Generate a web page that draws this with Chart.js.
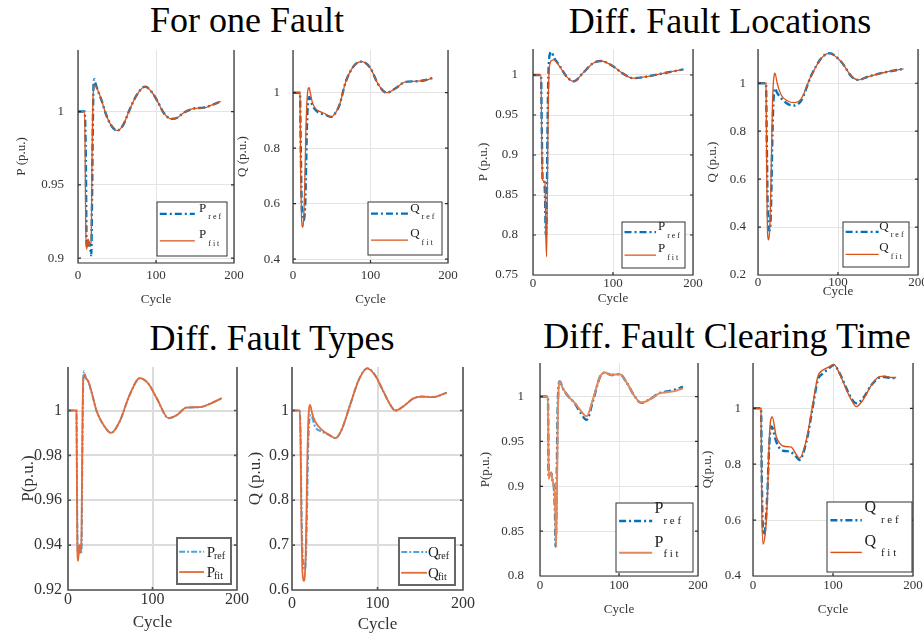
<!DOCTYPE html>
<html>
<head>
<meta charset="utf-8">
<script src="https://cdn.jsdelivr.net/npm/chart.js@4.4.0/dist/chart.umd.min.js"></script>
<style>
body{margin:0;background:#fff;width:924px;height:638px;position:relative;overflow:hidden;font-family:"Liberation Serif","Times New Roman",serif}
.title{position:absolute;font-size:36px;line-height:1;white-space:nowrap;transform:translateX(-50%);color:#000}
canvas{position:absolute}
</style>
</head>
<body>
<div class="title" style="left:247px;top:2px">For one Fault</div>
<div class="title" style="left:720px;top:3px">Diff. Fault Locations</div>
<div class="title" style="left:272px;top:320px">Diff. Fault Types</div>
<div class="title" style="left:727px;top:318px">Diff. Fault Clearing Time</div>
<script>
// values: cycle -> p.u.
const xTicks = [0, 100, 200];

const oneFaultPCycles = [0, 8.5, 10, 11, 12, 13, 14, 15, 16, 17, 18, 19, 20, 21, 22, 25, 30, 36, 42, 50, 58, 66, 75, 86, 95, 102, 110, 120, 128, 135, 148, 161, 172, 183];
const oneFaultPRef = [1, 1, 0.97, 0.91, 0.907, 0.912, 0.91, 0.909, 0.905, 0.902, 0.94, 0.99, 1.019, 1.022, 1.02, 1.015, 1.008, 0.998, 0.991, 0.987, 0.991, 1.001, 1.011, 1.017, 1.013, 1.007, 0.999, 0.995, 0.996, 0.999, 1.002, 1.0027, 1.0045, 1.007];
const oneFaultPFit = [1, 1, 0.92, 0.906, 0.909, 0.913, 0.908, 0.91, 0.91, 0.912, 0.97, 1.005, 1.016, 1.018, 1.018, 1.015, 1.008, 0.998, 0.991, 0.987, 0.991, 1.001, 1.011, 1.017, 1.013, 1.007, 0.999, 0.995, 0.996, 0.999, 1.002, 1.0025, 1.0045, 1.007];
const oneFaultPTicks = [0.9, 0.95, 1];

const oneFaultQCycles = [0, 9, 10, 11, 12, 13, 14, 15, 16, 17, 18, 19, 20, 21, 22, 25, 30, 35, 42, 49, 55, 60, 68, 79, 89, 100, 110, 121, 132, 145, 157, 170, 180];
const oneFaultQRef = [1, 1, 0.8, 0.62, 0.56, 0.545, 0.54, 0.56, 0.62, 0.75, 0.88, 0.95, 0.978, 0.985, 0.98, 0.955, 0.935, 0.926, 0.92, 0.913, 0.928, 0.956, 1.039, 1.098, 1.112, 1.088, 1.03, 1.0, 1.015, 1.039, 1.041, 1.045, 1.053];
const oneFaultQFit = [1, 1, 0.7, 0.55, 0.515, 0.52, 0.56, 0.65, 0.78, 0.9, 0.97, 1.005, 1.017, 1.018, 1.005, 0.965, 0.94, 0.932, 0.923, 0.913, 0.928, 0.956, 1.039, 1.098, 1.112, 1.088, 1.03, 1.0, 1.015, 1.039, 1.041, 1.045, 1.053];
const oneFaultQTicks = [0.4, 0.6, 0.8, 1];

const locPCycles = [0, 10, 11, 12, 13, 14, 15, 16, 17, 18, 19, 20, 21, 23, 26, 33, 42, 51, 62, 75, 85, 100, 112, 125, 142, 162, 188];
const locPRef = [1, 1, 0.93, 0.87, 0.869, 0.868, 0.85, 0.8, 0.82, 0.92, 0.99, 1.018, 1.026, 1.029, 1.022, 1.012, 0.998, 0.992, 1.002, 1.0146, 1.0175, 1.011, 1.002, 0.996, 0.998, 1.002, 1.007];
const locPFit = [1, 1, 0.91, 0.869, 0.868, 0.867, 0.866, 0.8, 0.773, 0.86, 0.96, 1.003, 1.013, 1.018, 1.019, 1.011, 0.998, 0.992, 1.002, 1.0146, 1.0175, 1.011, 1.002, 0.996, 0.998, 1.002, 1.007];
const locPTicks = [0.75, 0.8, 0.85, 0.9, 0.95, 1];

const locQCycles = [0, 10, 11, 12, 13, 14, 15, 16, 17, 18, 19, 20, 21, 22, 24, 29, 37, 45, 54, 66, 79, 89, 104, 117, 125, 138, 159, 182];
const locQRef = [1, 1, 0.75, 0.5, 0.41, 0.385, 0.39, 0.45, 0.6, 0.78, 0.9, 0.96, 0.979, 0.975, 0.96, 0.9375, 0.914, 0.907, 0.928, 1.028, 1.104, 1.125, 1.09, 1.028, 1.014, 1.028, 1.046, 1.06];
const locQFit = [1, 1, 0.6, 0.37, 0.347, 0.36, 0.42, 0.55, 0.73, 0.9, 0.99, 1.03, 1.042, 1.035, 1.0, 0.951, 0.926, 0.919, 0.935, 1.028, 1.104, 1.125, 1.09, 1.028, 1.014, 1.028, 1.046, 1.06];
const locQTicks = [0.2, 0.4, 0.6, 0.8, 1];

const typePCycles = [0, 10, 11, 12, 13, 14, 15, 16, 17, 18, 19, 20, 22, 24, 28, 34, 42, 51, 61, 73, 85, 95, 105, 119, 129, 140, 156, 168, 182];
const typePRef = [1, 1, 0.95, 0.935, 0.94, 0.938, 0.936, 0.938, 0.98, 1.012, 1.0175, 1.016, 1.014, 1.013, 1.008, 0.9996, 0.9936, 0.99, 0.995, 1.007, 1.0144, 1.012, 1.0055, 0.9966, 0.998, 1.0013, 1.0015, 1.003, 1.0055];
const typePFit = [1, 1, 0.94, 0.933, 0.939, 0.94, 0.937, 0.945, 0.99, 1.014, 1.016, 1.015, 1.014, 1.013, 1.008, 0.9996, 0.9936, 0.99, 0.995, 1.007, 1.0144, 1.012, 1.0055, 0.9966, 0.998, 1.0013, 1.0015, 1.003, 1.0055];
const typePTicks = [0.92, 0.94, 0.96, 0.98, 1];

const typeQCycles = [0, 9, 10, 11, 12, 13, 14, 15, 16, 17, 18, 19, 20, 21, 22, 23, 27, 35, 43, 51, 58, 68, 78, 88, 97, 107, 115, 121, 130, 142, 152, 165, 181];
const typeQRef = [1, 1, 0.95, 0.8, 0.7, 0.665, 0.65, 0.646, 0.66, 0.72, 0.82, 0.92, 0.97, 0.985, 0.99, 0.988, 0.964, 0.953, 0.946, 0.9385, 0.957, 1.0126, 1.068, 1.094, 1.079, 1.042, 1.0126, 1.0, 1.009, 1.027, 1.031, 1.03, 1.04];
const typeQFit = [1, 1, 0.93, 0.75, 0.65, 0.625, 0.62, 0.63, 0.68, 0.78, 0.9, 0.975, 1.005, 1.0126, 1.008, 0.998, 0.9756, 0.957, 0.946, 0.9385, 0.957, 1.0126, 1.068, 1.094, 1.079, 1.042, 1.0126, 1.0, 1.009, 1.027, 1.031, 1.03, 1.04];
const typeQTicks = [0.6, 0.7, 0.8, 0.9, 1];

const clearPCycles = [0, 10, 11, 12.5, 14, 16, 17.5, 19, 19.8, 20.5, 21.5, 22.5, 23.5, 25, 29, 36, 44, 50, 59, 67, 76, 82, 90, 101, 109, 120, 128, 139, 151, 160, 172, 181];
const clearPRef = [1, 1, 0.91, 0.913, 0.915, 0.906, 0.9, 0.87, 0.833, 0.86, 0.93, 0.99, 1.012, 1.0167, 1.009, 1.0, 0.9926, 0.984, 0.974, 0.995, 1.022, 1.0267, 1.024, 1.025, 1.0167, 1.0, 0.993, 0.997, 1.0037, 1.0056, 1.008, 1.011];
const clearPFit = [1, 1, 0.908, 0.913, 0.915, 0.906, 0.9, 0.885, 0.85, 0.833, 0.9, 0.975, 1.008, 1.0165, 1.009, 1.0, 0.993, 0.986, 0.978, 0.997, 1.022, 1.0267, 1.024, 1.025, 1.0167, 1.0, 0.993, 0.997, 1.0035, 1.0048, 1.0063, 1.0093];
const clearPTicks = [0.8, 0.85, 0.9, 0.95, 1];

const clearQCycles = [0, 10, 11, 12.5, 13.5, 15.8, 18, 20, 21.7, 23, 24, 29, 35, 37.5, 46, 48, 54, 58, 66.7, 75, 81, 87.5, 94, 101, 108, 117, 123, 129, 137.5, 148, 158, 164.6, 173, 179];
const clearQRef = [1, 1, 0.75, 0.56, 0.548, 0.589, 0.7, 0.85, 0.92, 0.935, 0.932, 0.881, 0.851, 0.848, 0.845, 0.842, 0.827, 0.815, 0.88, 1.01, 1.101, 1.125, 1.14, 1.155, 1.127, 1.07, 1.035, 1.018, 1.036, 1.083, 1.11, 1.112, 1.108, 1.108];
const clearQFit = [1, 1, 0.65, 0.514, 0.52, 0.565, 0.68, 0.86, 0.95, 0.965, 0.97, 0.899, 0.87, 0.865, 0.862, 0.861, 0.835, 0.821, 0.887, 1.018, 1.113, 1.137, 1.146, 1.157, 1.125, 1.065, 1.03, 1.006, 1.03, 1.083, 1.113, 1.115, 1.11, 1.11];
const clearQTicks = [0.4, 0.6, 0.8, 1];

// looks
const FONT = '"Liberation Serif", "Times New Roman", serif';
const matlabLook = {
  tick: 13, label: 13, text: '#333', frame: '#2b2b2b', frameW: 1.2, grid: '#e4e4e4', gridW: 1,
  ref: {color: '#0072BD', width: 2.4, dash: [7, 3, 2, 3]}, fit: {color: '#D95319', width: 1.3},
  box: {edge: '#333', edgeW: 1, l0: 0.04, l1: 0.54, ry: [0.22, 0.72], px: 0.6, pSize: 13, pDy: [-2, -3], gap: 2, sSize: 8, sDy: [5.5, 5], spaced: true}
};
const typesLook = {
  tick: 16, label: 17, text: '#333', frame: '#555', frameW: 1.6, grid: '#dcdcdc', gridW: 2,
  ref: {color: '#4DA3DF', width: 2, dash: [6, 2, 2, 2]}, fit: {color: '#E46A38', width: 1.8},
  box: {edge: '#666', edgeW: 2, l0: 0.04, l1: 0.5, ry: [0.3, 0.74], px: 0.55, pSize: 15, pDy: [5, 5], gap: -1, sSize: 10, sDy: [7, 7], spaced: false}
};
const clearLook = {
  tick: 13, label: 13, text: '#333', frame: '#2b2b2b', frameW: 1.2, grid: '#e4e4e4', gridW: 1,
  ref: {color: '#0072BD', width: 2.4, dash: [7, 3, 2, 3]}, fit: {color: '#D95319', width: 1.4},
  box: {edge: '#333', edgeW: 1, l0: 0.04, l1: 0.47, ry: [0.26, 0.72], px: 0.5, pSize: 16, pDy: [-8, -6], gap: 0, sSize: 11, sDy: [3, 4], spaced: true}
};

function panel(cfg) {
  const st = cfg.look;
  const [L, T, R, B] = cfg.area;
  const half = st.label * 0.6;
  const left = Math.round(cfg.ylabX - half);
  const top = T - 10;
  const bottom = Math.round(cfg.cycleY + half);
  const right = R + 16;
  const cv = document.createElement('canvas');
  cv.width = right - left;
  cv.height = bottom - top;
  cv.style.left = left + 'px';
  cv.style.top = top + 'px';
  document.body.appendChild(cv);

  const fitColor = cfg.fitColor || st.fit.color;
  const fitWidth = cfg.fitWidth || st.fit.width;
  const pts = ys => cfg.cycles.map((c, i) => ({x: c, y: ys[i]}));
  const tickFont = {family: FONT, size: st.tick};
  const labelFont = {family: FONT, size: st.label};
  const fmt = v => String(+Number(v).toFixed(3));
  const lg = Object.assign({}, st.box, cfg.legend);

  const extras = {
    id: 'extras',
    afterDatasetsDraw(chart) {
      const {ctx, chartArea: a, scales} = chart;
      ctx.save();
      ctx.strokeStyle = st.frame;
      ctx.lineWidth = st.frameW;
      ctx.beginPath();
      ctx.moveTo(a.left, a.top); ctx.lineTo(a.left, a.bottom);
      ctx.lineTo(a.right, a.bottom); ctx.lineTo(a.right, a.top);
      scales.y.ticks.forEach(t => {
        const y = scales.y.getPixelForValue(t.value);
        ctx.moveTo(a.left, y); ctx.lineTo(a.left + 3, y);
        ctx.moveTo(a.right, y); ctx.lineTo(a.right - 3, y);
      });
      scales.x.ticks.forEach(t => {
        const x = scales.x.getPixelForValue(t.value);
        ctx.moveTo(x, a.bottom); ctx.lineTo(x, a.bottom - 3);
      });
      ctx.stroke();
      ctx.restore();
    },
    afterDraw(chart) {
      const ctx = chart.ctx;
      const x = lg.x - left, y = lg.y - top;
      ctx.save();
      ctx.fillStyle = '#fff';
      ctx.fillRect(x, y, lg.w, lg.h);
      ctx.strokeStyle = lg.edge;
      ctx.lineWidth = lg.edgeW;
      ctx.strokeRect(x, y, lg.w, lg.h);
      const rows = [[chart.data.datasets[1], 'ref'], [chart.data.datasets[0], 'fit']];
      rows.forEach(([ds, sub], k) => {
        const ly = y + lg.ry[k] * lg.h;
        ctx.strokeStyle = ds.borderColor;
        ctx.lineWidth = ds.borderWidth;
        ctx.setLineDash(ds.borderDash || []);
        ctx.beginPath();
        ctx.moveTo(x + lg.l0 * lg.w, ly);
        ctx.lineTo(x + lg.l1 * lg.w, ly);
        ctx.stroke();
        ctx.setLineDash([]);
        ctx.fillStyle = '#222';
        ctx.textBaseline = 'alphabetic';
        ctx.font = lg.pSize + 'px ' + FONT;
        const px = x + lg.px * lg.w;
        ctx.fillText(cfg.sym, px, ly + lg.pDy[k]);
        const sx = px + ctx.measureText(cfg.sym).width + lg.gap;
        ctx.font = lg.sSize + 'px ' + FONT;
        ctx.fillText(lg.spaced ? sub.split('').join(' ') : sub, sx, ly + lg.sDy[k]);
      });
      ctx.restore();
    }
  };

  new Chart(cv, {
    type: 'line',
    data: {
      datasets: [
        {label: cfg.sym + ' fit', data: pts(cfg.fit), borderColor: fitColor, borderWidth: fitWidth, order: 1},
        {label: cfg.sym + ' ref', data: pts(cfg.ref), borderColor: st.ref.color, borderWidth: st.ref.width, borderDash: st.ref.dash, order: 2}
      ]
    },
    options: {
      responsive: false,
      animation: false,
      devicePixelRatio: 1,
      layout: {padding: {top: 10, right: 16, left: 0, bottom: 0}},
      elements: {point: {radius: 0}, line: {cubicInterpolationMode: 'monotone', fill: false}},
      plugins: {legend: {display: false}, tooltip: {enabled: false}},
      scales: {
        x: {
          type: 'linear', min: 0, max: 200,
          afterBuildTicks: s => { s.ticks = xTicks.map(v => ({value: v})); },
          afterFit: s => { s.height = bottom - B; s.paddingLeft = 0; s.paddingRight = 0; },
          grid: {color: st.grid, lineWidth: st.gridW, drawTicks: false},
          border: {display: false},
          ticks: {padding: cfg.xPad, color: st.text, font: tickFont, maxRotation: 0, autoSkip: false, callback: fmt},
          title: {display: true, text: 'Cycle', color: st.text, font: labelFont, padding: 0}
        },
        y: {
          type: 'linear', min: cfg.ymin, max: cfg.ymax,
          afterBuildTicks: s => { s.ticks = cfg.ticks.map(v => ({value: v})); },
          afterFit: s => { s.width = L - left; s.paddingTop = 0; s.paddingBottom = 0; },
          grid: {color: st.grid, lineWidth: st.gridW, drawTicks: false},
          border: {display: false},
          ticks: {padding: cfg.yPad, color: st.text, font: tickFont, autoSkip: false, callback: fmt},
          title: {display: true, text: cfg.ylabel, color: st.text, font: labelFont, padding: 0}
        }
      }
    },
    plugins: [extras]
  });
}

panel({look: matlabLook, sym: 'P', ylabel: 'P (p.u.)', cycles: oneFaultPCycles, ref: oneFaultPRef, fit: oneFaultPFit, ticks: oneFaultPTicks,
  area: [78, 50, 234, 263], ylabX: 22, cycleY: 299, yPad: 14, xPad: 5, ymin: 0.8967, ymax: 1.042, legend: {x: 157, y: 202, w: 70, h: 54}});
panel({look: matlabLook, sym: 'Q', ylabel: 'Q (p.u.)', cycles: oneFaultQCycles, ref: oneFaultQRef, fit: oneFaultQFit, ticks: oneFaultQTicks,
  area: [293, 50, 448, 263], ylabX: 243, cycleY: 299, yPad: 13, xPad: 5, ymin: 0.386, ymax: 1.154, legend: {x: 368, y: 202, w: 74, h: 53, px: 0.57}});
panel({look: matlabLook, sym: 'P', ylabel: 'P (p.u.)', cycles: locPCycles, ref: locPRef, fit: locPFit, ticks: locPTicks,
  area: [533, 49, 693, 275], ylabX: 484, cycleY: 298, yPad: 15, xPad: 1, ymin: 0.75, ymax: 1.0325, legend: {x: 622, y: 222, w: 63, h: 46, px: 0.57}});
panel({look: matlabLook, sym: 'Q', ylabel: 'Q (p.u.)', cycles: locQCycles, ref: locQRef, fit: locQFit, ticks: locQTicks,
  area: [758, 49, 918, 275], ylabX: 713, cycleY: 291, yPad: 12, xPad: 0, ymin: 0.2, ymax: 1.143, legend: {x: 843, y: 222, w: 66, h: 45, px: 0.55}});
panel({look: typesLook, sym: 'P', ylabel: 'P(p.u.)', cycles: typePCycles, ref: typePRef, fit: typePFit, ticks: typePTicks,
  area: [68, 367, 237, 590], ylabX: 28, cycleY: 623, yPad: 6, xPad: 0, ymin: 0.92, ymax: 1.0194, legend: {x: 177, y: 538, w: 54, h: 46}});
panel({look: typesLook, sym: 'Q', ylabel: 'Q (p.u.)', cycles: typeQCycles, ref: typeQRef, fit: typeQFit, ticks: typeQTicks,
  area: [292, 367, 463, 590], ylabX: 255, cycleY: 625, yPad: 3, xPad: 4, ymin: 0.6, ymax: 1.097, legend: {x: 399, y: 538, w: 56, h: 47, px: 0.52}});
panel({look: clearLook, sym: 'P', ylabel: 'P(p.u.)', cycles: clearPCycles, ref: clearPRef, fit: clearPFit, ticks: clearPTicks, fitColor: '#E4875A', fitWidth: 2,
  area: [540, 363, 698, 576], ylabX: 486, cycleY: 609, yPad: 16, xPad: 2, ymin: 0.8, ymax: 1.0374, legend: {x: 616, y: 503, w: 77, h: 69}});
panel({look: clearLook, sym: 'Q', ylabel: 'Q(p.u.)', cycles: clearQCycles, ref: clearQRef, fit: clearQFit, ticks: clearQTicks,
  area: [753, 363, 913, 576], ylabX: 708, cycleY: 609, yPad: 12, xPad: 2, ymin: 0.4, ymax: 1.162, legend: {x: 827, y: 502, w: 85, h: 70, px: 0.44, l1: 0.41, gap: 5}});
</script>
</body>
</html>
